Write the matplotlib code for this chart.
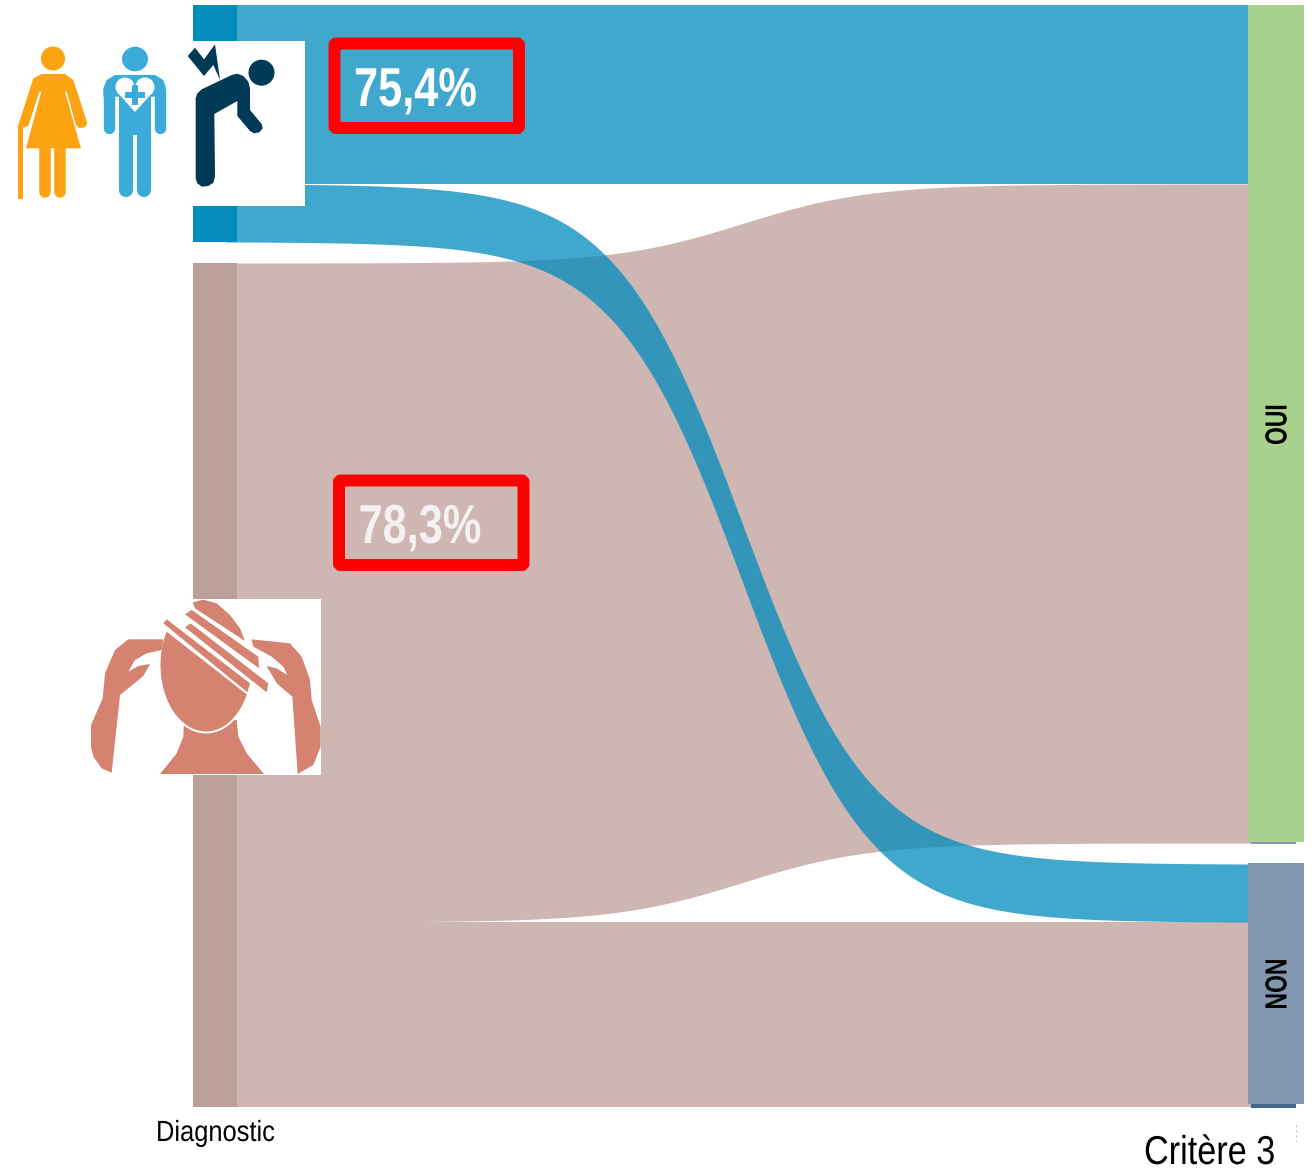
#!/bin/env python

import numpy as np

import matplotlib
matplotlib.use('agg')
import matplotlib.pyplot as plt
import matplotlib.patheffects as pe
from matplotlib.patches import Rectangle, Circle, Ellipse, Polygon, FancyBboxPatch
from matplotlib.transforms import Affine2D

# Data
sources = ["Blue", "Brown"]
targets = ["OUI", "NON"]
flow_to_oui = [179, 659]
flow_to_non = [58, 185]
percent_labels = ["75,4%", "78,3%"]
column_label = "Diagnostic"
last_column_label = "Critère 3"

W, H = 1315, 1168
SANS = ["Liberation Sans", "DejaVu Sans"]

BLUE_NODE = "#048CBE"
BROWN_NODE = "#BC9F99"
BROWN_LINK = "#CEB7B3"
BLUE_LINK = (0.0, 0.54, 0.74)


class Squeeze(pe.AbstractPathEffect):
    # no narrow font here, so squeeze the glyphs around the text origin

    def __init__(self, s, vertical=False):
        super().__init__()
        self.s = s
        self.vertical = vertical

    def draw_path(self, renderer, gc, tpath, affine, rgbFace=None):
        m = affine.get_matrix()
        if self.vertical:
            y0 = m[1, 2]
            squeeze = Affine2D().translate(0, -y0).scale(1, self.s).translate(0, y0)
        else:
            x0 = m[0, 2]
            squeeze = Affine2D().translate(-x0, 0).scale(self.s, 1).translate(x0, 0)
        renderer.draw_path(gc, tpath, affine + squeeze, rgbFace)


def sigmoid(x):
    # steep s-curve, normalised to start at 0 and end at 1
    k = 15.8
    f = lambda v: 1.0 / (1.0 + np.exp(-k * (v - 0.5)))
    return (f(x) - f(0.0)) / (f(1.0) - f(0.0))


def draw_link(ax, y0, y1, h, color, alpha=1.0, zorder=2):
    xs = np.linspace(0, 1, 500)
    top = y0 + (y1 - y0) * sigmoid(xs)
    px = 237 + xs * (1248 - 237)
    # run a little under both nodes so no seam shows
    px = np.r_[225, px, 1255]
    top = np.r_[y0, top, y1]
    ax.fill_between(px, top, top + h, color=color, alpha=alpha, lw=0, zorder=zorder)


def zoomed(pts, ox=0, oy=0):
    return [(x / 3.0 + ox, y / 3.0 + oy) for x, y in pts]


def shape(ax, pts, c, zorder=6):
    ax.add_patch(Polygon(pts, closed=True, color=c, lw=0, zorder=zorder))


def draw_woman(ax, c="#FCA311"):
    ax.add_patch(Circle((53, 58.5), 12, color=c, lw=0, zorder=6))
    shape(ax, zoomed([(100, 235), (125, 222), (195, 222), (220, 240), (262, 370), (255, 382),
                      (238, 384), (228, 375), (200, 275), (195, 275), (243, 445), (78, 445),
                      (124, 275), (118, 275), (85, 378), (70, 383), (55, 375)]), c)
    for x in [45.2, 60.2]:
        ax.plot([x, x], [148, 192], color=c, lw=8.3, solid_capstyle="round", zorder=6)
    ax.add_patch(Rectangle((18, 125), 5.5, 74, color=c, lw=0, zorder=6))


def draw_medic(ax, c="#3BABD9"):
    ax.add_patch(Ellipse((135, 59), 26, 24.5, color=c, lw=0, zorder=6))
    shape(ax, zoomed([(310, 265), (320, 240), (345, 225), (465, 225), (490, 240), (498, 265),
                      (498, 290), (310, 290)]), c)
    ax.plot([109, 109], [92, 128], color=c, lw=8.2, solid_capstyle="round", zorder=6)
    ax.plot([160.5, 160.5], [92, 128], color=c, lw=8.2, solid_capstyle="round", zorder=6)
    ax.add_patch(Rectangle((119, 90), 32, 45, color=c, lw=0, zorder=6))
    ax.plot([126.3, 126.3], [133, 190], color=c, lw=10.2, solid_capstyle="round", zorder=6)
    ax.plot([143.7, 143.7], [133, 190], color=c, lw=10.2, solid_capstyle="round", zorder=6)
    # heart
    ax.add_patch(Circle((125, 87), 9.5, color="white", lw=0, zorder=7))
    ax.add_patch(Circle((145, 87), 9.5, color="white", lw=0, zorder=7))
    shape(ax, [(117, 92), (153, 92), (135, 112)], "white", zorder=7)
    ax.add_patch(Rectangle((125, 92), 20, 5.5, color=c, lw=0, zorder=8))
    ax.add_patch(Rectangle((132, 85), 6, 20, color=c, lw=0, zorder=8))


def draw_back_pain(ax, c="#003A57"):
    ax.add_patch(Rectangle((193, 41), 112, 165, color="white", lw=0, zorder=5))
    ax.add_patch(Circle((261.5, 72.7), 13, color=c, lw=0, zorder=6))
    shape(ax, zoomed([(587, 295), (592, 280), (605, 268), (695, 225), (712, 221), (730, 228),
                      (745, 245), (750, 265), (750, 330), (785, 372), (788, 385), (778, 397),
                      (762, 400), (750, 393), (712, 348), (712, 303), (643, 342), (645, 530),
                      (640, 548), (625, 558), (605, 560), (592, 550), (587, 535)]), c)
    shape(ax, zoomed([(563, 168), (585, 143), (612, 178), (645, 133), (660, 240), (640, 195),
                      (612, 228)]), c)


def draw_head(ax, c="#D58270"):
    ax.add_patch(Rectangle((112, 599), 209, 176, color="white", lw=0, zorder=5))
    z = lambda pts: zoomed(pts, 80, 590)   # from the wide crop
    s = lambda pts: zoomed(pts, 150, 595)  # from the close crop of the stripes

    # neck, then a white rim so the chin stands off it
    shape(ax, z([(312, 390), (470, 390), (475, 440), (500, 490), (552, 552), (240, 552),
                 (290, 490), (310, 440)]), c)
    rim = Ellipse((206, 665), 95, 137, color="white", lw=0, zorder=6.5)
    ax.add_patch(rim)
    rim.set_clip_path(Rectangle((150, 700), 120, 50, transform=ax.transData))

    # skull, only below the lowest stripe
    skull = Ellipse((206, 665), 91, 133, color=c, lw=0, zorder=7)
    ax.add_patch(skull)
    skull.set_clip_path(Polygon(s([(-60, 24), (400, 384), (400, 600), (-60, 600)]),
                                closed=True, transform=ax.transData))

    # skull cap and the three bars
    shape(ax, s([(135, 40), (128, 22), (160, 14), (200, 25), (240, 60), (270, 100), (285, 138)]), c, zorder=9)
    shape(ax, s([(105, 58), (125, 45), (325, 185), (327, 220)]), c, zorder=9)
    shape(ax, s([(105, 97), (122, 85), (355, 265), (350, 292)]), c, zorder=9)
    shape(ax, s([(40, 85), (50, 73), (300, 265), (292, 292)]), c, zorder=9)

    # arms
    shape(ax, z([(145, 148), (250, 148), (245, 180), (200, 190), (165, 210), (145, 245), (175, 228),
                 (210, 222), (190, 258), (120, 315), (95, 548), (65, 535), (40, 500), (33, 470),
                 (33, 405), (68, 325), (75, 250), (105, 180)]), c, zorder=10)
    shape(ax, z([(515, 148), (630, 160), (665, 200), (690, 270), (695, 330), (722, 410), (722, 470),
                 (700, 525), (653, 552), (637, 320), (590, 280), (560, 228), (590, 235), (622, 255),
                 (610, 230), (575, 200), (520, 170)]), c, zorder=10)


def draw_red_box(ax, x, y, w, h):
    ax.add_patch(FancyBboxPatch((x, y), w, h, boxstyle="round,pad=0,rounding_size=2",
                                fill=False, ec="#FF0000", lw=8.6, zorder=10))


if __name__ == "__main__":

    fig = plt.figure(figsize=(W / 100, H / 100), dpi=100)
    ax = fig.add_axes([0, 0, 1, 1])
    ax.set_xlim(0, W)
    ax.set_ylim(H, 0)
    ax.axis("off")

    # layout from the values
    top = 5
    gap = 21
    blue_h = flow_to_oui[0] + flow_to_non[0]
    brown_h = flow_to_oui[1] + flow_to_non[1]
    oui_h = flow_to_oui[0] + flow_to_oui[1]
    non_h = flow_to_non[0] + flow_to_non[1]

    blue_y = top
    brown_y = blue_y + blue_h + gap
    oui_y = top
    non_y = oui_y + oui_h + gap

    # links, brown ones underneath
    draw_link(ax, brown_y, oui_y + flow_to_oui[0], flow_to_oui[1], BROWN_LINK)
    draw_link(ax, brown_y + flow_to_oui[1], non_y + flow_to_non[0], flow_to_non[1], BROWN_LINK)
    draw_link(ax, blue_y, oui_y, flow_to_oui[0], BLUE_LINK, alpha=0.745, zorder=3)
    draw_link(ax, blue_y + flow_to_oui[0], non_y, flow_to_non[0], BLUE_LINK, alpha=0.745, zorder=3)

    # nodes
    ax.add_patch(Rectangle((193, blue_y), 44, blue_h, color=BLUE_NODE, lw=0, zorder=4))
    ax.add_patch(Rectangle((193, brown_y), 44, brown_h, color=BROWN_NODE, lw=0, zorder=4))
    ax.add_patch(Rectangle((1251, oui_y + oui_h - 2), 45, 3, color="#8497B0", lw=0, zorder=3))
    ax.add_patch(Rectangle((1251, non_y + non_h - 3), 45, 4, color="#41678A", lw=0, zorder=3))
    ax.add_patch(Rectangle((1248, oui_y), 56, oui_h - 1, color="#A9D18E", lw=0, zorder=4))
    ax.add_patch(Rectangle((1248, non_y - 1), 56, non_h - 2, color="#8497B0", lw=0, zorder=4))

    t = ax.text(1293.5, oui_y + oui_h * 0.5 + 21, targets[0], rotation=90, ha="right", va="bottom",
                fontsize=22, fontweight="bold", family=SANS, color="black", zorder=5)
    t.set_path_effects([Squeeze(0.75, vertical=True)])
    t = ax.text(1293.5, non_y + non_h * 0.5 + 24, targets[1], rotation=90, ha="right", va="bottom",
                fontsize=22, fontweight="bold", family=SANS, color="black", zorder=5)
    t.set_path_effects([Squeeze(0.75, vertical=True)])

    # icons
    draw_woman(ax)
    draw_medic(ax)
    draw_back_pain(ax)
    draw_head(ax)

    # percent boxes
    draw_red_box(ax, 334.5, 43.5, 184.5, 84.5)
    draw_red_box(ax, 339, 480.5, 184.5, 84.5)
    t = ax.text(354, 106, percent_labels[0], ha="left", va="baseline", fontsize=39.5, fontweight="bold",
                family=SANS, color="white", zorder=11)
    t.set_path_effects([Squeeze(0.79)])
    t = ax.text(358.5, 543, percent_labels[1], ha="left", va="baseline", fontsize=39.5, fontweight="bold",
                family=SANS, color="#F4F1F0", zorder=11)
    t.set_path_effects([Squeeze(0.79)])

    # column labels
    t = ax.text(156, 1141, column_label, ha="left", va="baseline", fontsize=21,
                family=SANS, color="black")
    t.set_path_effects([Squeeze(0.873)])
    t = ax.text(1144, 1164, last_column_label, ha="left", va="baseline", fontsize=29,
                family=SANS, color="black")
    t.set_path_effects([Squeeze(0.85)])
    ax.plot([1296, 1296], [1125, 1141], color="#B0B0B0", lw=0.8, ls=(0, (1.5, 3)))

    fig.savefig("out.png", dpi=100)
